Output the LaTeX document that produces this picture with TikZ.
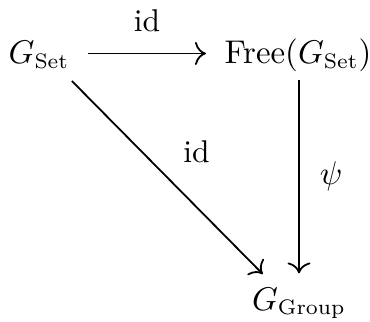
\documentclass[tikz,border=0pt]{standalone}
\usepackage{amsmath}
\usepackage{amssymb}
\usepackage{tikz}
\usetikzlibrary{arrows.meta, positioning, calc}

\begin{document}
\begin{tikzpicture}[x=0.3333pt, y=-0.3333pt,
    every node/.append style={font=\fontsize{10.5}{12.6}\selectfont},
    obj/.style={inner sep=0pt, text height=8.5pt, text depth=1.5pt, anchor=base},
    map/.style={-{To[scale=1.25]}, line width=0.6pt}]
    \useasboundingbox (0,0) rectangle (370,322);

    % Objects
    \node[obj] (gset)   at (39,64)   {$G_{\mathrm{Set}}$};
    \node[obj] (free)   at (298,64)  {$\mathrm{Free}(G_{\mathrm{Set}})$};
    \node[obj] (ggroup) at (299,310) {$G_{\mathrm{Group}}$};

    % Top map
    \draw[map, shorten <=6pt, shorten >=6pt] (gset.east) -- (free.west)
        node[midway, above=3.5pt] (lidtop) {id};

    % Right map
    \draw[map, shorten <=3.8pt, shorten >=3.5pt] (free.south -| ggroup.north) -- (ggroup.north)
        node[midway, right=3.3pt] (lpsi) {$\psi$};

    % Diagonal map
    \draw[map, shorten <=12.9pt, shorten >=11.9pt]
        ([xshift=1.9pt]gset.center) -- ([xshift=-3.7pt]ggroup.center)
        node[pos=0.508, above right=2pt] (liddiag) {id};
\end{tikzpicture}
\end{document}
